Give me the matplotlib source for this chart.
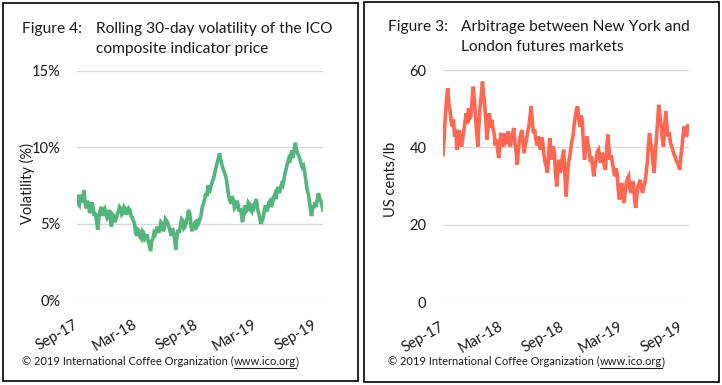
import numpy as np
import pandas as pd
import matplotlib
matplotlib.use('Agg')
import matplotlib.pyplot as plt
from matplotlib.patches import Rectangle

plt.rcParams['font.family'] = ['Lato', 'DejaVu Sans']

# --------- DATA (half-weekly readings) ----------------------------
START = '2017-09-01'
END = '2019-09-22'

volatility = [
    6.8, 6.3, 6.2, 6.9, 6.6, 6.4, 7.2, 6.4, 6.0, 6.5, 6.3, 5.7, 5.9, 6.4, 6.1, 5.5, 5.7, 5.2, 4.6, 5.4,
    5.8, 6.1, 5.5, 5.9, 6.0, 5.6, 5.4, 5.6, 5.9, 5.3, 4.8, 5.6, 5.5, 5.1, 5.3, 5.6, 5.8, 6.1, 6.0, 5.6,
    5.7, 6.1, 6.0, 5.6, 5.8, 6.0, 5.9, 5.5, 5.4, 5.2, 5.0, 4.4, 4.2, 4.6, 4.5, 4.1, 4.0, 4.5, 4.4, 4.0,
    4.1, 4.3, 3.8, 3.6, 3.2, 3.9, 4.0, 4.4, 4.3, 4.6, 4.8, 4.4, 4.6, 5.1, 5.0, 4.5, 4.7, 5.3, 5.2, 5.0,
    4.8, 4.5, 4.2, 4.7, 4.5, 3.9, 3.3, 4.2, 4.6, 4.4, 4.9, 5.3, 5.2, 4.7, 4.8, 5.1, 5.4, 5.9, 5.7, 5.0,
    4.5, 4.9, 5.0, 4.6, 4.8, 5.3, 5.1, 5.3, 5.6, 6.1, 6.3, 6.6, 7.0, 6.8, 7.5, 7.0, 7.3, 7.6, 7.8, 8.0,
    8.4, 8.7, 9.0, 9.3, 9.6, 9.2, 8.9, 8.6, 8.4, 8.2, 7.9, 7.3, 6.8, 6.5, 6.3, 6.8, 6.6, 6.0, 6.1, 6.5,
    6.3, 5.8, 6.0, 5.6, 5.1, 5.7, 6.2, 5.8, 5.9, 6.4, 6.3, 5.9, 5.8, 6.3, 6.1, 6.4, 6.6, 6.0, 5.7, 5.4,
    5.0, 5.2, 5.4, 5.9, 6.2, 5.8, 6.0, 6.4, 6.5, 6.1, 6.3, 6.7, 6.9, 6.6, 7.2, 7.4, 7.0, 7.3, 7.6, 7.5,
    7.9, 8.3, 8.6, 8.9, 9.2, 9.0, 9.5, 9.8, 9.3, 9.9, 10.3, 9.8, 9.6, 9.4, 9.2, 8.9, 8.7, 8.8, 8.4, 7.9,
    7.3, 7.0, 6.6, 6.0, 5.5, 6.2, 6.0, 6.4, 6.1, 6.6, 7.0, 6.7, 6.5, 6.2, 5.9,
]

arbitrage = [
    38.1, 42.5, 48.0, 52.0, 55.3, 51.5, 49.7, 46.8, 45.4, 47.2, 42.8, 44.6, 39.4, 41.8, 44.5, 42.0, 40.2, 42.3, 44.5, 46.5,
    48.8, 46.2, 50.1, 47.5, 48.0, 51.8, 55.7, 52.3, 48.0, 44.0, 40.2, 46.0, 50.6, 53.5, 57.0, 53.8, 50.6, 46.3, 42.0, 45.8,
    48.8, 45.1, 47.1, 45.0, 43.7, 40.5, 42.0, 39.6, 37.2, 41.0, 43.7, 42.1, 40.2, 43.6, 42.0, 40.8, 44.1, 42.5, 40.2, 41.9,
    43.7, 45.0, 41.1, 38.9, 35.5, 39.2, 42.0, 43.4, 44.5, 41.2, 38.5, 40.9, 42.0, 44.2, 45.4, 47.9, 50.6, 46.5, 43.7, 44.6,
    42.0, 40.5, 42.8, 41.0, 39.4, 42.6, 41.1, 38.2, 36.0, 35.1, 33.4, 38.0, 42.4, 39.1, 36.8, 40.2, 38.5, 33.2, 29.9, 34.1,
    36.8, 33.4, 35.1, 37.6, 39.4, 33.0, 27.3, 31.8, 36.0, 37.2, 39.4, 41.5, 42.8, 45.7, 48.0, 49.9, 50.6, 47.3, 45.4, 48.2,
    47.1, 41.0, 36.8, 40.1, 42.8, 40.6, 39.4, 36.2, 37.7, 34.6, 32.5, 35.0, 36.8, 38.9, 39.4, 37.1, 36.0, 38.6, 37.7, 35.3,
    34.2, 39.5, 43.3, 39.8, 36.8, 37.9, 36.0, 34.1, 32.5, 34.6, 33.4, 29.2, 26.5, 28.9, 30.8, 27.4, 25.6, 28.3, 30.8, 31.9,
    32.5, 29.6, 28.2, 30.4, 31.2, 27.1, 24.3, 27.5, 29.9, 30.6, 31.6, 29.4, 28.2, 29.9, 30.8, 33.2, 36.0, 40.5, 43.7, 41.2,
    39.4, 35.8, 33.4, 38.5, 42.8, 47.5, 51.0, 47.9, 45.4, 42.1, 40.2, 45.6, 49.3, 45.2, 42.8, 43.9, 41.1, 40.3, 39.4, 38.1,
    37.7, 36.6, 36.0, 35.3, 34.2, 37.8, 40.2, 43.5, 45.4, 43.6, 42.8, 45.9, 44.5,
]

tick_dates = ['2017-09-01', '2018-03-01', '2018-09-01', '2019-03-01', '2019-09-01']
tick_labels = ['Sep-17', 'Mar-18', 'Sep-18', 'Mar-19', 'Sep-19']

vol_ticks = [0, 5, 10, 15]
vol_labels = ['0%', '5%', '10%', '15%']
arb_ticks = [0, 20, 40, 60]
arb_labels = ['0', '20', '40', '60']

GREEN = '#52B67C'
RED = '#FF6753'
GRID = '#D9D9D9'
TEXT = '#1a1a1a'
FOOTER = '\u00a9 2019 International Coffee Organization ('
LINK = 'www.ico.org'
# -------------------------------------------------------------

W, H = 722, 385
fig = plt.figure(figsize=(W / 100, H / 100), dpi=100)


def fx(px):
    return px / W


def fy(py):
    return 1 - py / H


def panel(left_px, right_px, top_px, bottom_px):
    fig.patches.append(Rectangle((fx(left_px), fy(bottom_px)),
                                 fx(right_px - left_px), (bottom_px - top_px) / H,
                                 transform=fig.transFigure, fill=False,
                                 edgecolor='black', lw=1.2))


def style_axes(ax, values, color, yticks, ylabels):
    dates = pd.date_range(START, END, periods=len(values))
    ax.plot(dates, values, color=color, lw=2.6, solid_joinstyle='miter')
    ax.set_xlim(dates[0], dates[-1])
    ax.set_ylim(yticks[0], yticks[-1])
    ax.set_yticks(yticks)
    ax.set_yticklabels(ylabels)
    ax.set_xticks(pd.to_datetime(tick_dates))
    ax.set_xticklabels(tick_labels)
    ax.tick_params(axis='both', length=0, labelsize=10.5, colors=TEXT)
    ax.tick_params(axis='y', pad=12)
    ax.tick_params(axis='x', pad=17, labelrotation=30)
    plt.setp(ax.get_xticklabels(), ha='right', va='center', rotation_mode='anchor')
    ax.grid(axis='y', color=GRID, lw=1)
    ax.set_axisbelow(True)
    for s in ax.spines.values():
        s.set_visible(False)


def footer(x_px, y_px):
    t1 = fig.text(fx(x_px), fy(y_px), FOOTER, fontsize=8.0, color=TEXT, va='baseline')
    fig.canvas.draw()
    bb = t1.get_window_extent()
    t2 = fig.text(bb.x1 / W, fy(y_px), LINK, fontsize=8.0, color=TEXT, va='baseline')
    fig.canvas.draw()
    bb2 = t2.get_window_extent()
    fig.text(bb2.x1 / W, fy(y_px), ')', fontsize=8.0, color=TEXT, va='baseline')
    fig.add_artist(plt.Line2D([bb2.x0 / W, bb2.x1 / W], [fy(y_px + 3), fy(y_px + 3)],
                              transform=fig.transFigure, color=TEXT, lw=0.8))


# left panel
panel(3, 358, 3, 381)
ax1 = fig.add_axes([fx(77), fy(300), fx(246), 229 / H])
style_axes(ax1, volatility, GREEN, vol_ticks, vol_labels)
fig.text(fx(22), fy(33), 'Figure 4:', fontsize=11.2, color=TEXT, va='baseline')
fig.text(fx(96), fy(33), 'Rolling 30-day volatility of the ICO', fontsize=11.2,
         color=TEXT, va='baseline')
fig.text(fx(96), fy(53), 'composite indicator price', fontsize=11.2, color=TEXT,
         va='baseline')
fig.text(fx(27), fy(183), 'Volatility (%)', fontsize=10.5, color=TEXT,
         rotation=90, ha='center', va='center')

# right panel
panel(364, 719, 2, 382)
ax2 = fig.add_axes([fx(443), fy(302), fx(246), 232 / H])
style_axes(ax2, arbitrage, RED, arb_ticks, arb_labels)
fig.text(fx(388), fy(31), 'Figure 3:', fontsize=11.2, color=TEXT, va='baseline')
fig.text(fx(461), fy(31), 'Arbitrage between New York and', fontsize=11.2,
         color=TEXT, va='baseline')
fig.text(fx(461), fy(51), 'London futures markets', fontsize=11.2, color=TEXT,
         va='baseline')
fig.text(fx(391), fy(179), 'US cents/lb', fontsize=10.5, color=TEXT,
         rotation=90, ha='center', va='center')

footer(22, 365)
footer(388, 365)

fig.savefig('out.png', dpi=100)
